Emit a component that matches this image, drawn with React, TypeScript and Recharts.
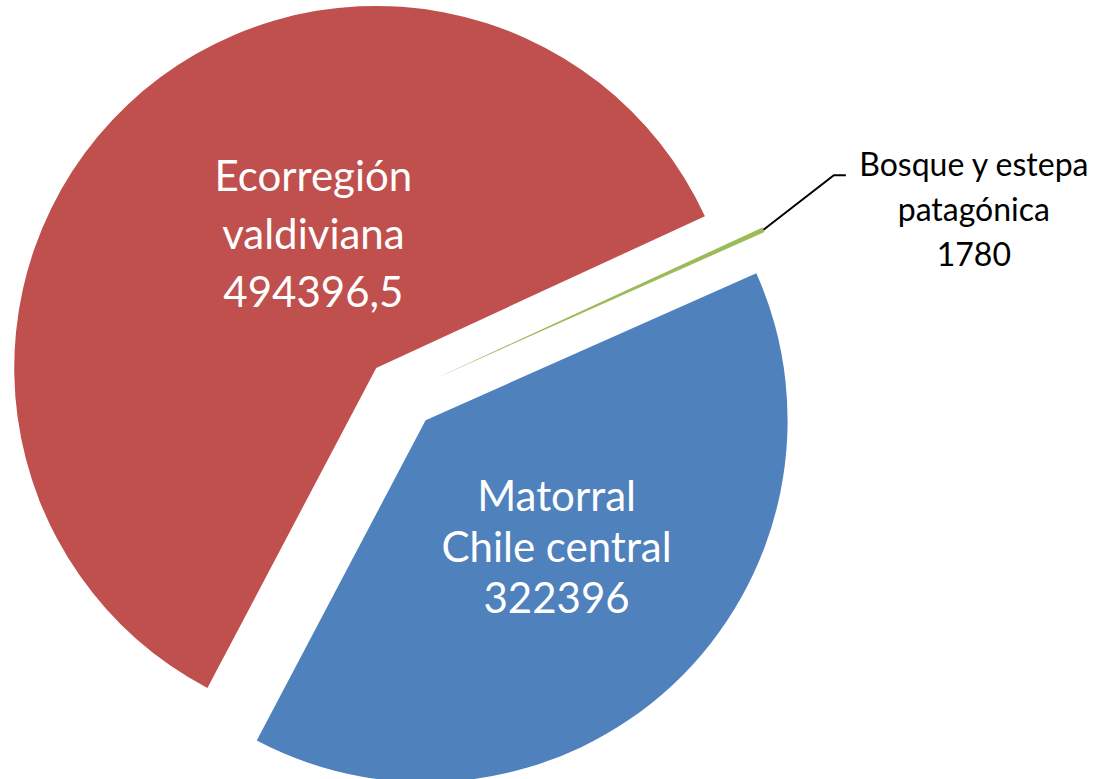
import { Cell, Pie, PieChart } from 'recharts'

const categories = ['Matorral Chile central', 'Bosque y estepa patagónica', 'Ecorregión valdiviana']
const values = [322396, 1780, 494396.5]
const labelLines = [
  ['Matorral', 'Chile central', '322396'],
  ['Bosque y estepa', 'patagónica', '1780'],
  ['Ecorregión', 'valdiviana', '494396,5'],
]
const colors = ['#4F81BD', '#9BBB59', '#C0504D']

const data = categories.map((name, i) => ({ name, value: values[i] }))

const WIDTH = 1107
const HEIGHT = 779
const CX = 401
const CY = 394
const RADIUS = 362
const EXPLODE = 36
const START = -117.8
const END = 242.2
const FONT = 'Lato, "Noto Sans", sans-serif'

// where each label sits, relative to its slice
const labelPlace = [
  { kind: 'inside', r: 183, angle: -44.3, lineH: 51, size: 42, color: '#fff' },
  { kind: 'outside', r: 449, angle: 27, lineH: 45, size: 32, color: '#000' },
  { kind: 'inside', r: 147, angle: 115.3, lineH: 58, size: 42, color: '#fff' },
]

const total = values.reduce((a, b) => a + b, 0)
const midAngles = values.map((v, i) => {
  const before = values.slice(0, i).reduce((a, b) => a + b, 0)
  return START + ((before + v / 2) / total) * (END - START)
})

const RAD = Math.PI / 180

function makeLabel(target: number) {
  return (props: any) => {
    const { cx, cy, index } = props
    if (index !== target) return <g key={`empty-${index}`} />
    const p = labelPlace[index]
    const lines = labelLines[index]
    if (p.kind === 'inside') {
      const x = cx + p.r * Math.cos(p.angle * RAD)
      const y = cy - p.r * Math.sin(p.angle * RAD)
      return (
        <text key={`lbl-${index}`} x={x} y={y} textAnchor="middle" fill={p.color} fontSize={p.size} fontFamily={FONT}>
          {lines.map((t, k) => (
            <tspan key={k} x={x} y={y + (k - 1) * p.lineH + p.size * 0.34}>
              {t}
            </tspan>
          ))}
        </text>
      )
    }
    const mid = midAngles[index]
    const ox = cx + RADIUS * Math.cos(mid * RAD)
    const oy = cy - RADIUS * Math.sin(mid * RAD)
    const kx = cx + p.r * Math.cos(p.angle * RAD)
    const ky = cy - p.r * Math.sin(p.angle * RAD)
    const ex = kx + 12
    const tx = ex + 128
    return (
      <g key={`lbl-${index}`}>
        <polyline points={`${ox},${oy} ${kx},${ky} ${ex},${ky}`} fill="none" stroke="#000" strokeWidth={2} />
        <text x={tx} y={ky} textAnchor="middle" fill={p.color} fontSize={p.size} fontFamily={FONT}>
          {lines.map((t, k) => (
            <tspan key={k} x={tx} y={ky + k * p.lineH + 1}>
              {t}
            </tspan>
          ))}
        </text>
      </g>
    )
  }
}

export default function App() {
  return (
    <div style={{ position: 'absolute', left: 0, top: 0, background: '#fff' }}>
      <PieChart width={WIDTH} height={HEIGHT} margin={{ top: 0, right: 0, bottom: 0, left: 0 }}>
        {data.map((_, target) => (
          <Pie
            key={target}
            data={data}
            dataKey="value"
            nameKey="name"
            cx={CX + EXPLODE * Math.cos(midAngles[target] * RAD)}
            cy={CY - EXPLODE * Math.sin(midAngles[target] * RAD)}
            outerRadius={RADIUS}
            innerRadius={0}
            startAngle={START}
            endAngle={END}
            stroke="none"
            isAnimationActive={false}
            labelLine={false}
            label={makeLabel(target)}
          >
            {data.map((d, i) => (
              <Cell key={d.name} fill={i === target ? colors[i] : 'none'} stroke="none" />
            ))}
          </Pie>
        ))}
      </PieChart>
    </div>
  )
}
